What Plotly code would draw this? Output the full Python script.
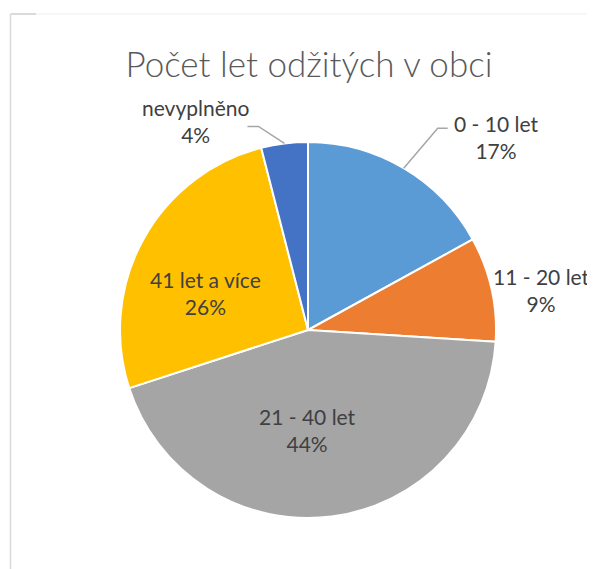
import math
import plotly.graph_objects as go

# data
labels = ["0 - 10 let", "11 - 20 let", "21 - 40 let", "41 let a více", "nevyplněno"]
values = [17, 9, 44, 26, 4]
colors = ["#5B9BD5", "#ED7D31", "#A5A5A5", "#FFC000", "#4472C4"]

OFF = 8  # page body margin shifts the plot by 8px
W, H = 595 - OFF, 569 - OFF
cx, cy, R = 308 - OFF, 330 - OFF, 188  # pie centre and radius in px

# label placement (style): radius fraction for anchor, pixel shift, leader elbow/end
lab_r = [1.0, 1.0, 0.53, 0.6, 1.0]
lab_shift = [(92, -31), (50, 1), (-13, 1), (-4, 17), (-89, -22)]
leaders = {0: [(34, -40), (44, -40)], 4: [(-26, -17), (-37, -17)]}

fig = go.Figure(go.Pie(
    labels=labels, values=values, sort=False, direction="clockwise", rotation=0,
    marker=dict(colors=colors, line=dict(color="white", width=2)),
    textinfo="none", hoverinfo="label+percent", showlegend=False,
    domain=dict(x=[(cx - R) / W, (cx + R) / W], y=[1 - (cy + R) / H, 1 - (cy - R) / H]),
))

total = sum(values)
cum = 0
annotations = []
shapes = []
for i, (lab, v) in enumerate(zip(labels, values)):
    mid = (cum + v / 2) / total * 2 * math.pi
    cum += v
    r = lab_r[i] * R
    px = cx + r * math.sin(mid)
    py = cy - r * math.cos(mid)
    dx, dy = lab_shift[i]
    pct = round(v / total * 100)
    annotations.append(dict(
        x=px / W, y=1 - py / H, xref="paper", yref="paper",
        xanchor="center", yanchor="middle",
        xshift=dx, yshift=-dy, showarrow=False,
        text=f"{lab}<br>{pct}%", align="center",
        font=dict(family="Lato, sans-serif", size=21, color="#404040"),
    ))
    if i in leaders:
        pts = [(px, py)] + [(px + a, py + b) for a, b in leaders[i]]
        path = "M " + " L ".join(f"{x / W},{1 - y / H}" for x, y in pts)
        shapes.append(dict(type="path", path=path, xref="paper", yref="paper",
                           line=dict(color="#A6A6A6", width=1.5)))

# chart frame
fx, fy = 10.5 - OFF, 14 - OFF
shapes += [
    dict(type="line", xref="paper", yref="paper", x0=fx / W, x1=fx / W, y0=0, y1=1 - fy / H,
         line=dict(color="#D9D9D9", width=1.5)),
    dict(type="line", xref="paper", yref="paper", x0=fx / W, x1=1, y0=1 - fy / H, y1=1 - fy / H,
         line=dict(color="#EFEFEF", width=1)),
    dict(type="line", xref="paper", yref="paper", x0=fx / W, x1=(36 - OFF) / W, y0=1 - fy / H, y1=1 - fy / H,
         line=dict(color="#D0D0D0", width=1.5)),
]

fig.update_layout(
    width=W, height=H, margin=dict(l=0, r=0, t=0, b=0),
    paper_bgcolor="white", plot_bgcolor="white",
    title=dict(text="Počet let odžitých v obci", x=(309 - OFF) / W, xanchor="center",
               y=1 - (65 - OFF) / H, yanchor="middle",
               font=dict(family="Lato, sans-serif", size=35, color="#595959", weight=300)),
    annotations=annotations, shapes=shapes,
)

fig.write_html("out.html")
